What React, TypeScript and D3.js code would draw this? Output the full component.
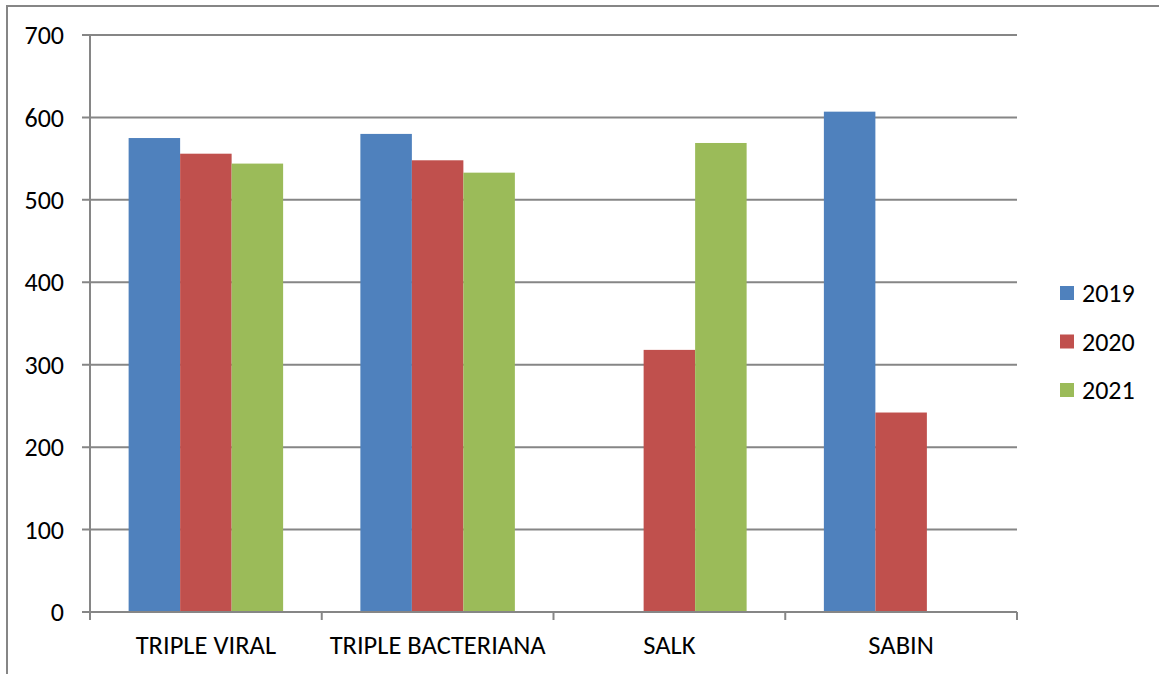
import { useEffect, useRef } from 'react'
import * as d3 from 'd3'

const categories = ['TRIPLE VIRAL', 'TRIPLE BACTERIANA', 'SALK', 'SABIN']
const years = ['2019', '2020', '2021']
const values2019 = [575, 580, 0, 607]
const values2020 = [556, 548, 318, 242]
const values2021 = [544, 533, 569, 0]
const yTicks = [0, 100, 200, 300, 400, 500, 600, 700]
const colors = ['#4F81BD', '#C0504D', '#9BBB59']

const W = 1159
const H = 674

export default function App() {
  const svgRef = useRef<SVGSVGElement | null>(null)

  useEffect(() => {
    const svg = d3.select(svgRef.current)
    svg.selectAll('*').remove()

    const font = 'Calibri, Carlito, "Liberation Sans", Arial, sans-serif'
    const grid = '#868686'
    const plot = { left: 90, right: 1017, top: 35, bottom: 612 }

    // frame
    svg
      .append('path')
      .attr('d', `M7,${H + 5}V6H${W + 5}`)
      .attr('fill', 'none')
      .attr('stroke', grid)
      .attr('stroke-width', 2)

    const y = d3.scaleLinear().domain([0, 700]).range([plot.bottom, plot.top])
    const x0 = d3.scaleBand<string>().domain(categories).range([plot.left, plot.right]).paddingInner(0).paddingOuter(0)
    const bw = x0.bandwidth() / 4.5
    const x1 = d3
      .scaleBand<string>()
      .domain(years)
      .range([bw * 0.75, bw * 3.75])

    const g = svg.append('g')

    // gridlines + y ticks
    g.selectAll('.grid')
      .data(yTicks)
      .join('line')
      .attr('x1', plot.left - 8)
      .attr('x2', (d) => (d === 0 ? plot.left : plot.right))
      .attr('y1', (d) => y(d))
      .attr('y2', (d) => y(d))
      .attr('stroke', grid)
      .attr('stroke-width', 2)

    g.selectAll('.ylab')
      .data(yTicks)
      .join('text')
      .attr('x', 64)
      .attr('y', (d) => y(d))
      .attr('dy', '0.35em')
      .attr('text-anchor', 'end')
      .attr('font-family', font)
      .attr('font-size', 26)
      .attr('fill', '#000')
      .text((d) => d)

    // bars
    const series = [values2019, values2020, values2021]
    const barData = categories.flatMap((c, i) =>
      years.map((yr, j) => ({ c, yr, j, v: series[j][i] }))
    )
    g.selectAll('.bar')
      .data(barData.filter((d) => d.v > 0))
      .join('rect')
      .attr('x', (d) => (x0(d.c) as number) + (x1(d.yr) as number))
      .attr('width', x1.bandwidth())
      .attr('y', (d) => y(d.v))
      .attr('height', (d) => y(0) - y(d.v))
      .attr('fill', (d) => colors[d.j])

    // axes lines
    g.append('line')
      .attr('x1', plot.left)
      .attr('x2', plot.left)
      .attr('y1', plot.top)
      .attr('y2', plot.bottom + 8)
      .attr('stroke', grid)
      .attr('stroke-width', 2)
    g.append('line')
      .attr('x1', plot.left)
      .attr('x2', plot.right)
      .attr('y1', plot.bottom)
      .attr('y2', plot.bottom)
      .attr('stroke', grid)
      .attr('stroke-width', 2)

    const bounds = [...categories.map((c) => x0(c) as number), plot.right]
    g.selectAll('.xtick')
      .data(bounds)
      .join('line')
      .attr('x1', (d) => d)
      .attr('x2', (d) => d)
      .attr('y1', plot.bottom)
      .attr('y2', plot.bottom + 8)
      .attr('stroke', grid)
      .attr('stroke-width', 2)

    g.selectAll('.xlab')
      .data(categories)
      .join('text')
      .attr('x', (d) => (x0(d) as number) + x0.bandwidth() / 2)
      .attr('y', 645)
      .attr('dy', '0.35em')
      .attr('text-anchor', 'middle')
      .attr('font-family', font)
      .attr('font-size', 26.5)
      .attr('fill', '#000')
      .text((d) => d)

    // legend
    const lg = svg.append('g')
    lg.selectAll('rect')
      .data(years)
      .join('rect')
      .attr('x', 1060)
      .attr('y', (_, i) => 293 + i * 48.5 - 7)
      .attr('width', 14)
      .attr('height', 14)
      .attr('fill', (_, i) => colors[i])
    lg.selectAll('text')
      .data(years)
      .join('text')
      .attr('x', 1082)
      .attr('y', (_, i) => 293 + i * 48.5)
      .attr('dy', '0.35em')
      .attr('font-family', font)
      .attr('font-size', 26)
      .attr('fill', '#000')
      .text((d) => d)
  }, [])

  return (
    <svg
      ref={svgRef}
      width={W}
      height={H}
      style={{ position: 'absolute', left: 0, top: 0, background: '#fff' }}
    />
  )
}
